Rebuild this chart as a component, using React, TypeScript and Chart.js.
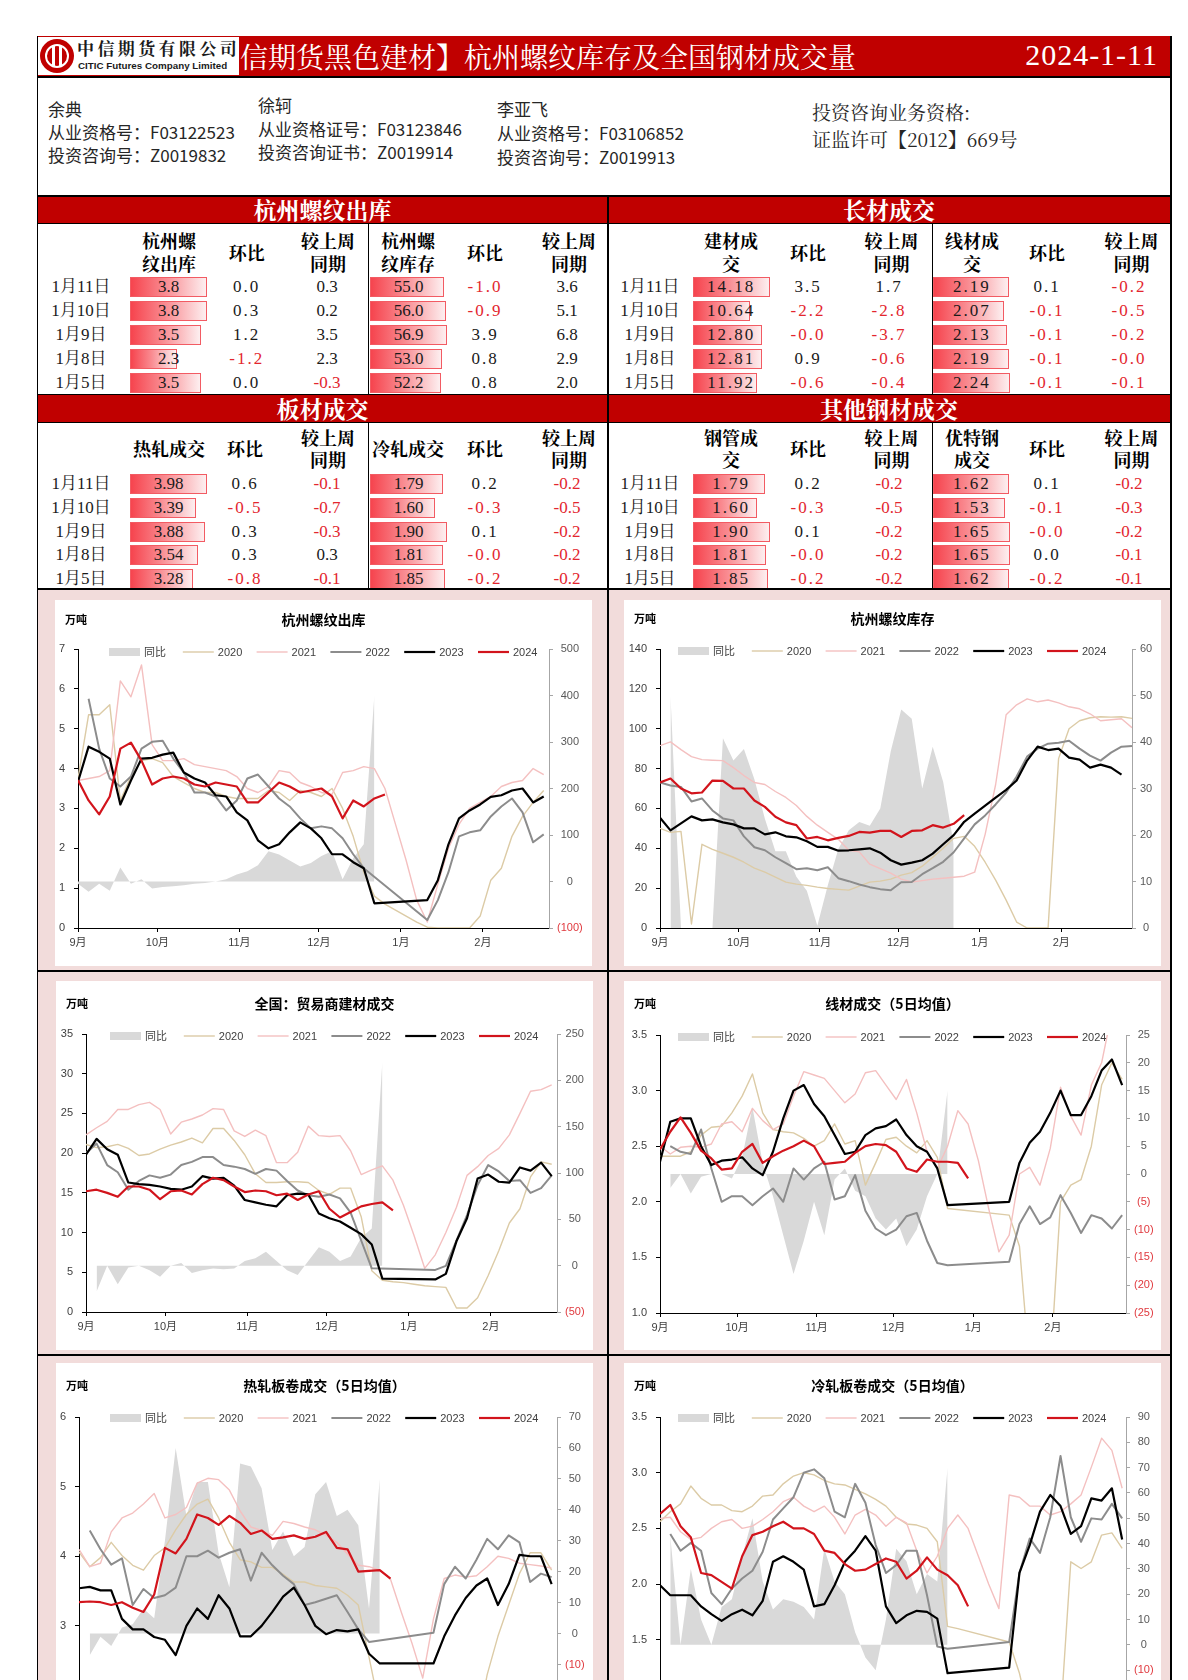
import React, { useEffect, useRef } from 'react';
import { Chart, registerables } from 'chart.js';

Chart.register(...registerables);

const CJK_SERIF = '"Noto Serif CJK SC", "Noto Sans CJK SC", serif';
const CJK = '"Noto Sans CJK SC", "Noto Sans", sans-serif';
const NUM_SERIF = '"Liberation Serif", "Noto Serif CJK SC", "Noto Sans CJK SC", serif';
const AXIS_FONT = '"Liberation Sans", "Noto Sans CJK SC", sans-serif';

const RED_BAR = '#c00000';
const PINK = '#f2dcdb';
const NEG = '#e3262e';

Chart.defaults.font.family = AXIS_FONT;

// ---------- chart data (x = days since 1 Sep) ----------
const DAYS = [0, 4, 8, 12, 16, 20, 24, 28, 32, 36, 40, 44, 48, 52, 56, 60, 64, 68, 72, 76, 80, 84, 88, 92, 96, 100, 104, 108, 112, 116, 120, 124, 128, 132, 136, 140, 144, 148, 152, 156, 160, 164, 168, 172, 176, 180];
const MONTH_DAYS = [0, 30, 61, 91, 122, 153];
const MONTH_LABELS = ['9月', '10月', '11月', '12月', '1月', '2月'];
const SERIES_LABELS = ['同比', '2020', '2021', '2022', '2023', '2024'];
const SERIES_COLORS = ['#d9d9d9', '#dccba6', '#f4c0c0', '#8c8c8c', '#000000', '#d2141c'];
const SERIES_WIDTHS = [0, 1.4, 1.4, 2, 2.2, 2.2];

// 杭州螺纹出库
const C1_YOY = [-5, -22, -5, -20, 30, -5, 5, -15, -12, -10, -8, -5, -3, 0, 5, 15, 22, 35, 65, 58, 45, 32, 40, 55, 65, 5, 50, 80, 400];
const C1_2020 = [3.75, 5.35, 5.35, 5.6, 3.2, 3.8, 4.2, 4.25, 4.15, 3.8, 3.65, 3.5, 3.4, 3.4, 3.3, 3.25, 3.25, 3.25, 3.45, 3.4, 3.2, 3.45, 3.4, 3.3, 3.5, 3.0, 2.3, 1.4, 0.8, 0.6, 0.45, 0.3, 0.15, 0.02, 0, 0, 0, 0, 0.3, 1.2, 1.5, 2.3, 2.8, 3.15, 3.45];
const C1_2021 = [3.7, 3.75, 3.8, 3.95, 6.2, 5.8, 6.6, 4.6, 4.2, 4.2, 4.25, 4.1, 4.05, 4.0, 3.95, 3.8, 3.5, 3.4, 3.55, 3.95, 3.9, 3.65, 3.55, 3.4, 3.35, 3.9, 3.95, 4.05, 4.0, 3.5, 2.6, 1.7, 0.7, 0.15, 1.1, 2.0, 2.6, 3.0, 3.15, 3.3, 3.55, 3.65, 3.7, 4.0, 3.85];
const C1_2022 = [null, 5.75, 4.5, 3.75, 3.55, 3.8, 4.5, 4.67, 4.7, 4.25, 3.9, 3.4, 3.4, 3.3, 2.95, 3.2, 3.75, 3.85, 3.55, 3.25, 3.05, 2.75, 2.5, 2.55, 2.5, 2.25, 1.85, 1.5, null, null, null, null, null, 0.2, 0.7, 1.4, 2.3, 2.4, 2.45, 2.8, 3.05, 3.25, 2.9, 2.15, 2.35];
const C1_2023 = [3.67, 4.55, 4.42, 4.25, 3.1, 3.7, 4.25, 4.27, 4.35, 4.4, 3.9, 3.75, 3.65, 3.33, 3.3, 2.9, 2.7, 2.2, 2.0, 2.1, 2.4, 2.65, 2.5, 2.25, 1.85, 1.85, 1.65, 1.5, 0.62, null, null, null, null, 0.7, 1.2, 2.1, 2.75, 2.95, 3.1, 3.29, 3.33, 3.45, 3.5, 3.15, 3.3];
const C1_2024 = [3.71, 3.2, 2.85, 3.3, 4.5, 4.65, 4.2, 3.6, 3.75, 3.8, 3.75, 3.6, 3.55, 3.65, 3.6, 3.55, 3.15, 3.15, 3.4, 3.65, 3.55, 3.4, 3.45, 3.5, 3.3, 2.75, 3.2, 3.05, 3.25, 3.35];

// 杭州螺纹库存
const C2_YOY = [null, 50, 0, 0, 0, 0, 40.8, 36, 38.5, 32, 23.5, 16.5, 16.5, 11, 8, 0.5, 9.2, 17, 21, 22.8, 22, 25.7, 38, 47, 45, 30, 39, 31.4, 18];
const C2_2020 = [50, 48, 48.5, 2, 42, 39.5, 37.5, 35.5, 33, 30, 28, 25.5, 23, 22, 21.4, 20.5, 19.8, 19.4, 19, 21, 23, 23.5, 24.5, 26.5, 27.8, 31, 35.5, 40, 45, 46, 41, 33, 24, 14, 3, 0, 0, 0, 85, 100, 104, 105.5, 106, 105.8, 106, 105.2];
const C2_2021 = [91.5, 93.4, 89.5, 86, 84.5, 84.2, 84, 80.5, 76.5, 73, 72, 68.5, 65.5, 61.5, 56, 51.6, 48, 44.5, 39, 38.2, 32, 29.8, 27.5, 24.5, 23.1, 23.8, 24.5, 25, 25.5, 26, 28, 47, 72, 107, 112, 115, 113.5, 114.4, 113, 111, 110, 107.5, 104, 104.5, 105, 100.5];
const C2_2022 = [73, 71.5, 70.8, 63.5, 65, 59, 55, 54, 46, 40.5, 39, 35.5, 32.5, 29.5, 30, 29, 30.5, 25, 23.5, 21.8, 20.5, 19.5, 18.9, 23, 23.1, 27, 30, 33.2, 38, 45, 52, 56.5, 62, 68, 76, 86, 90, 92.5, 93, 94, 90, 86.5, 84, 88, 91, 91.3];
const C2_2023 = [55.3, 49, 52.5, 56, 54, 54.5, 53, 52, 50, 50, 47, 48, 46, 45.5, 43.5, 40.7, 40.7, 38.8, 39, 39.5, 40, 37.8, 34, 31.8, 32.8, 34, 37.3, 42, 46.6, 53.3, 57.4, 61.4, 65.4, 69.3, 74, 84, 91, 89.3, 90, 85.5, 84.5, 80.5, 82, 80.5, 77];
const C2_2024 = [73, 75, 70, 67.6, 68, 74, 73.8, 70, 70, 64, 60.8, 55.8, 53, 51.6, 44.9, 45.7, 44, 45.2, 46.2, 48.2, 47.9, 48.7, 48.7, 45.7, 48.7, 49, 51.6, 50.4, 52.3, 56.6];

// 全国：贸易商建材成交
const C3_YOY = [null, -28, 0, -20, -2, 0, -5, -12, 0, 3, -8, -5, -3, -4, -3, 5, 8, 15, 5, -5, -10, 5, 20, 15, 5, 10, 30, 40, 220];
const C3_2020 = [21.1, 20.7, 20.8, 21.1, 20.6, 19.7, 19.9, 20.5, 21, 21.4, 21.9, 21.3, 23.1, 23.1, 21.6, 19.8, 17.4, 16.3, 16.3, 16.4, 16.4, 16.3, 15.3, 14.8, 15.6, 15.6, 12, 5.2, 4.0, 3.8, 3.7, 3.5, 3.3, 3.2, 3.1, 0.5, 0.5, 1.8, 4.6, 7.7, 11.2, 13, 17, 18.9, 18.6];
const C3_2021 = [22.3, 23.2, 24, 25.5, 25.5, 26.1, 26.4, 25.5, 22.4, 23.9, 24.3, 24.8, 25.6, 25.5, 22.8, 22.1, 22.9, 22.2, 18.8, 18.8, 20.1, 23.4, 22.2, 22.1, 22.2, 20.3, 17.3, 17.9, 18.4, 16.6, 13.4, 9.6, 5.5, 7.2, 10.0, 13.2, 17.2, 18.3, 19.7, 20.6, 22.3, 25, 27.8, 28, 28.6];
const C3_2022 = [20, 21.2, 18.5, 17.6, 15.4, 16.5, 17.2, 16.9, 17.3, 18.5, 18.9, 19.5, 19.5, 18.5, 18.3, 18, 17.4, 18, 17.8, 16.5, 15.3, 14.7, 14.5, 14.8, 14.3, 12.5, 9, 5.5, null, null, null, null, null, 5.3, 5.8, 9, 12.2, 16, 18.5, 17.7, 16.5, 16.6, 15, 15.6, 17.2];
const C3_2023 = [19.8, 21.8, 20.5, 19.8, 16.3, 16.1, 16, 15.8, 15.5, 15.4, 15.8, 17.1, 16.8, 16.9, 15.9, 14.1, 13.8, 13.5, 13.3, 14.7, 14.9, 14.8, 12.4, 11.8, 11.4, 10.6, 9.8, 8.5, 4.2, null, null, null, null, 4.1, 4.8, 8.9, 11.8, 16.8, 17.3, 16.4, 16.3, 18.2, 17.8, 18.8, 17.1];
const C3_2024 = [15.2, 15.4, 15, 14.5, 15.8, 15.8, 15.4, 14.2, 15.2, 15.3, 14.8, 16.1, 16.9, 16.6, 15.8, 15.1, 15.3, 15.2, 14.7, 14.9, 14.1, 14.8, 15.2, 13.0, 11.9, 12.6, 13.3, 13.6, 13.8, 12.8];

// 线材成交（5日均值）
const C4_YOY = [null, -2.5, 0, -3.5, -0.5, 0, 0, -0.8, 3, 12, 2, -4, -11, -18, -12, -5, -11, -1, 1, -3, -4, -8, -10, -8, -13, -10, -4, 0, 15];
const C4_2020 = [2.41, 2.41, 2.41, 2.45, 2.6, 2.67, 2.68, 2.8, 2.95, 3.15, 2.8, 2.65, 2.63, 2.62, 2.57, 2.5, 2.55, 2.7, 2.52, 2.55, 2.15, 2.35, 2.56, 2.58, 2.5, 2.44, 2.55, 2.4, 1.94, null, null, null, null, null, 1.88, 1.6, 0.5, 0.5, 0.5, 2.0, 2.15, 2.2, 2.5, 3.05, 3.25, 3.1];
const C4_2021 = [2.5, 2.43, 2.49, 2.5, 2.49, 2.52, 2.7, 2.72, 2.63, 2.84, 2.73, 2.65, 2.7, 2.95, 3.17, 3.14, 3.11, 3.0, 2.89, 2.97, 3.16, 3.18, 3.05, 2.92, 3.1, 2.8, 2.45, 2.3, 2.5, 2.82, 2.7, 2.37, 1.94, 1.55, 1.7, 2.25, 2.31, 2.15, 2.48, 3.03, 2.77, 2.6, 3.05, 3.25, 3.7];
const C4_2022 = [null, 2.5, 2.45, 2.43, 2.65, 2.3, 2.0, 2.05, 2.05, 1.97, 2.05, 2.12, 2.0, 2.3, 2.2, 2.3, 2.36, 2.02, 2.05, 2.24, 1.92, 1.76, 1.7, 1.75, 1.87, 1.9, 1.65, 1.45, 1.43, null, null, null, null, null, 1.46, 1.8, 1.96, 1.8, 1.86, 2.06, 1.9, 1.72, 1.88, 1.85, 1.76, 1.88];
const C4_2023 = [2.36, 2.72, 2.75, 2.75, 2.5, 2.33, 2.37, 2.38, 2.4, 2.3, 2.24, 2.45, 2.75, 3.0, 3.05, 2.88, 2.77, 2.6, 2.43, 2.45, 2.6, 2.66, 2.68, 2.74, 2.6, 2.5, 2.45, 2.3, 1.97, null, null, null, null, null, 2.0, 2.35, 2.53, 2.63, 2.8, 3.0, 2.78, 2.78, 2.95, 3.18, 3.28, 3.05];
const C4_2024 = [2.47, 2.63, 2.76, 2.62, 2.46, 2.39, 2.29, 2.3, 2.45, 2.52, 2.35, 2.41, 2.46, 2.5, 2.55, 2.5, 2.34, 2.35, 2.36, 2.44, 2.5, 2.52, 2.51, 2.45, 2.3, 2.27, 2.38, 2.36, 2.36, 2.35, 2.21];

// 热轧板卷成交（5日均值）
const C5_YOY = [null, -7, -1, -4, 2, 3, 8, 5, 30, 60, 38, 49, 49, 26, 15, 55, 54, 47, 27, 33, 25, 28, 45, 49, 38, 40, 35, 8, 50];
const C5_2020 = [4.06, 3.85, 3.98, 4.2, 4.01, 3.87, 3.8, 4.01, 4.12, 4.38, 4.6, 4.75, 4.82, 4.55, 4.2, 3.95, 3.92, 3.84, 3.84, 3.74, 3.63, 3.63, 3.58, 3.56, 3.54, 3.44, 3.3, 2.55, 1.8, null, null, null, null, null, null, null, null, 1.5, 2.3, 2.85, 3.3, 3.75, 4.05, 4.05, 3.8];
const C5_2021 = [4.1, 3.85, 3.9, 4.35, 4.55, 4.62, 4.75, 4.9, 4.55, 4.6, 4.7, 5.05, 5.12, 5.1, 4.95, 4.65, 4.42, 4.37, 4.3, 4.5, 4.47, 4.42, 4.38, 4.3, 4.2, 4.03, 3.87, 3.85, 3.8, 3.67, 3.2, 2.75, 2.25, 3.1, 3.68, 3.73, 3.7, 3.72, 3.85, 4.0, 3.97, 3.9, 3.88, 3.86, 3.83];
const C5_2022 = [null, 4.37, 4.1, 3.88, 3.97, 3.3, 3.53, 3.4, 3.44, 3.55, 4.0, 4.0, 4.08, 3.98, 4.05, 4.1, 3.65, 4.05, 3.87, 3.72, 3.6, 3.3, 3.34, 3.39, 3.44, 3.2, 2.95, 2.77, null, null, null, null, null, 2.9, 3.6, 3.85, 3.68, 3.95, 4.25, 4.1, 4.3, 4.2, 3.63, 3.75, 3.7];
const C5_2023 = [3.54, 3.56, 3.51, 3.51, 3.1, 2.95, 2.95, 2.84, 2.8, 2.58, 3.0, 3.25, 3.1, 3.44, 3.25, 2.85, 2.85, 3.0, 3.2, 3.42, 3.55, 3.3, 3.0, 2.88, 2.94, 2.92, 2.95, 2.6, 2.46, null, null, null, null, 2.46, 2.85, 3.15, 3.4, 3.58, 3.68, 3.3, 3.6, 4.02, 4.0, 4.0, 3.6];
const C5_2024 = [3.34, 3.35, 3.34, 3.3, 3.34, 3.26, 3.2, 3.45, 4.12, 4.04, 4.25, 4.6, 4.55, 4.45, 4.58, 4.48, 4.32, 4.37, 4.25, 4.27, 4.3, 4.25, 4.28, 4.35, 4.12, 4.1, 3.78, 3.79, 3.8, 3.68];

// 冷轧板卷成交（5日均值）
const C6_YOY = [null, 43, 0, 30, 10, 0, 15, 18, 35, 50, 25, 14, 18, 17, 15, 10, 38, 25, 20, 5, -5, -10, 10, 38, 33, 20, 28, 25, 70];
const C6_2020 = [2.56, 2.65, 2.72, 2.88, 2.77, 2.71, 2.71, 2.66, 2.65, 2.7, 2.79, 2.8, 2.9, 2.97, 3.0, 2.98, 2.93, 2.9, 2.89, 2.85, 2.81, 2.76, 2.7, 2.6, 2.54, 2.53, 2.5, 2.38, 1.62, 1.6, null, null, null, null, 1.48, 1.2, 0.8, null, null, 0.8, 2.2, 2.14, 2.2, 2.44, 2.46, 2.32];
const C6_2021 = [2.59, 2.6, 2.47, 2.4, 2.42, 2.5, 2.56, 2.58, 2.5, 2.52, 2.58, 2.65, 2.74, 2.78, 2.7, 2.65, 2.7, 2.6, 2.45, 2.62, 2.67, 2.62, 2.52, 2.6, 2.55, 2.3, 2.1, 2.25, 2.5, 2.62, 2.5, 2.25, 2.0, 1.78, 2.8, 2.78, 2.7, 2.7, 2.62, 2.65, 2.72, 2.8, 3.05, 3.31, 3.2, 2.86];
const C6_2022 = [null, 2.45, 2.3, 2.37, 2.3, 1.92, 1.82, 1.96, 2.05, 2.12, 2.29, 2.58, 2.68, 2.78, 3.0, 3.03, 2.95, 2.65, 2.6, 2.9, 2.73, 2.35, 2.1, 2.17, 2.3, 2.3, 1.9, 1.44, 1.42, null, null, null, null, null, 1.48, 2.1, 2.41, 2.28, 2.6, 3.15, 2.6, 2.38, 2.59, 2.58, 2.72, 2.59];
const C6_2023 = [1.99, 1.9, 1.9, 1.9, 1.8, 1.73, 1.67, 1.73, 1.77, 1.72, 1.85, 2.2, 2.25, 2.2, 2.13, 1.8, 1.82, 1.99, 2.2, 2.3, 2.43, 2.3, 1.8, 1.65, 1.72, 1.76, 1.75, 1.69, 1.2, null, null, null, null, null, 1.25, 2.1, 2.35, 2.65, 2.8, 2.7, 2.45, 2.52, 2.77, 2.75, 2.86, 2.4];
const C6_2024 = [2.63, 2.71, 2.52, 2.42, 2.1, 2.08, 2.02, 1.96, 2.25, 2.44, 2.47, 2.52, 2.56, 2.5, 2.5, 2.45, 2.3, 2.28, 2.18, 2.12, 2.13, 2.18, 2.23, 2.2, 2.05, 2.12, 2.24, 2.13, 2.08, 1.99, 1.8];

// ---------- table data ----------
const T_DATES = ['1月11日', '1月10日', '1月9日', '1月8日', '1月5日'];
const HZ_OUT = [3.8, 3.8, 3.5, 2.3, 3.5];
const HZ_OUT_HB = ['0.0', '0.3', '1.2', '-1.2', '0.0'];
const HZ_OUT_WOW = ['0.3', '0.2', '3.5', '2.3', '-0.3'];
const HZ_STOCK = [55.0, 56.0, 56.9, 53.0, 52.2];
const HZ_STOCK_HB = ['-1.0', '-0.9', '3.9', '0.8', '0.8'];
const HZ_STOCK_WOW = ['3.6', '5.1', '6.8', '2.9', '2.0'];
const JC = [14.18, 10.64, 12.8, 12.81, 11.92];
const JC_HB = ['3.5', '-2.2', '-0.0', '0.9', '-0.6'];
const JC_WOW = ['1.7', '-2.8', '-3.7', '-0.6', '-0.4'];
const XC = [2.19, 2.07, 2.13, 2.19, 2.24];
const XC_HB = ['0.1', '-0.1', '-0.1', '-0.1', '-0.1'];
const XC_WOW = ['-0.2', '-0.5', '-0.2', '-0.0', '-0.1'];
const RZ = [3.98, 3.39, 3.88, 3.54, 3.28];
const RZ_HB = ['0.6', '-0.5', '0.3', '0.3', '-0.8'];
const RZ_WOW = ['-0.1', '-0.7', '-0.3', '0.3', '-0.1'];
const LZ = [1.79, 1.6, 1.9, 1.81, 1.85];
const LZ_HB = ['0.2', '-0.3', '0.1', '-0.0', '-0.2'];
const LZ_WOW = ['-0.2', '-0.5', '-0.2', '-0.2', '-0.2'];
const GG = [1.79, 1.6, 1.9, 1.81, 1.85];
const GG_HB = ['0.2', '-0.3', '0.1', '-0.0', '-0.2'];
const GG_WOW = ['-0.2', '-0.5', '-0.2', '-0.2', '-0.2'];
const YT = [1.62, 1.53, 1.65, 1.65, 1.62];
const YT_HB = ['0.1', '-0.1', '-0.0', '0.0', '-0.2'];
const YT_WOW = ['-0.2', '-0.3', '-0.2', '-0.1', '-0.1'];

// ---------- chart panels ----------
const PANELS = [
  { id: 'c1', x: 55, y: 600, w: 537, h: 366, plotL: 23, plotT: 49, plotR: 494, plotB: 328, title: '杭州螺纹出库', titleY: 20, legendY: 52, xMax: 178, yMin: 0, yMax: 7, yStep: 1, yDec: 0, rMin: -100, rMax: 500, rStep: 100, series: [C1_YOY, C1_2020, C1_2021, C1_2022, C1_2023, C1_2024] },
  { id: 'c2', x: 624, y: 600, w: 537, h: 366, plotL: 36, plotT: 49, plotR: 508, plotB: 328, title: '杭州螺纹库存', titleY: 19, legendY: 51, xMax: 180, yMin: 0, yMax: 140, yStep: 20, yDec: 0, rMin: 0, rMax: 60, rStep: 10, series: [C2_YOY, C2_2020, C2_2021, C2_2022, C2_2023, C2_2024] },
  { id: 'c3', x: 56, y: 981, w: 537, h: 369, plotL: 30, plotT: 53, plotR: 501, plotB: 331, title: '全国：贸易商建材成交', titleY: 23, legendY: 55, xMax: 178, yMin: 0, yMax: 35, yStep: 5, yDec: 0, rMin: -50, rMax: 250, rStep: 50, series: [C3_YOY, C3_2020, C3_2021, C3_2022, C3_2023, C3_2024] },
  { id: 'c4', x: 624, y: 981, w: 537, h: 369, plotL: 36, plotT: 54, plotR: 502, plotB: 332, title: '线材成交（5日均值）', titleY: 23, legendY: 56, xMax: 181.5, yMin: 1, yMax: 3.5, yStep: 0.5, yDec: 1, rMin: -25, rMax: 25, rStep: 5, series: [C4_YOY, C4_2020, C4_2021, C4_2022, C4_2023, C4_2024] },
  { id: 'c5', x: 56, y: 1363, w: 537, h: 366, plotL: 23, plotT: 54, plotR: 501, plotB: 332.5, title: '热轧板卷成交（5日均值）', titleY: 23, legendY: 55, xMax: 178, yMin: 2, yMax: 6, yStep: 1, yDec: 0, rMin: -20, rMax: 70, rStep: 10, series: [C5_YOY, C5_2020, C5_2021, C5_2022, C5_2023, C5_2024] },
  { id: 'c6', x: 624, y: 1363, w: 537, h: 366, plotL: 36, plotT: 54, plotR: 502, plotB: 332.5, title: '冷轧板卷成交（5日均值）', titleY: 23, legendY: 55, xMax: 181.5, yMin: 1, yMax: 3.5, yStep: 0.5, yDec: 1, rMin: -20, rMax: 90, rStep: 10, series: [C6_YOY, C6_2020, C6_2021, C6_2022, C6_2023, C6_2024] },
];

function ChartPanel({ cfg }: { cfg: any }) {
  const ref = useRef<HTMLCanvasElement | null>(null);
  useEffect(() => {
    const canvas = ref.current;
    if (!canvas) return;
    const pts = (arr: (number | null)[]) => arr.map((v, i) => ({ x: DAYS[i], y: v }));
    const datasets: any[] = cfg.series.map((arr: (number | null)[], i: number) => {
      if (i === 0) {
        return {
          label: SERIES_LABELS[0], data: pts(arr), yAxisID: 'y1', borderWidth: 0,
          borderColor: 'rgba(0,0,0,0)', backgroundColor: SERIES_COLORS[0], fill: 'origin',
          pointRadius: 0, spanGaps: false, order: 6,
        };
      }
      return {
        label: SERIES_LABELS[i], data: pts(arr), yAxisID: 'y', borderWidth: SERIES_WIDTHS[i],
        borderColor: SERIES_COLORS[i], backgroundColor: SERIES_COLORS[i], fill: false,
        pointRadius: 0, spanGaps: true, order: 6 - i, borderJoinStyle: 'round',
      };
    });
    const overlay = {
      id: 'overlay_' + cfg.id,
      afterDraw(chart: any) {
        const c = chart.ctx;
        c.save();
        c.textBaseline = 'middle';
        c.fillStyle = '#000';
        c.textAlign = 'center';
        c.font = 'bold 14px ' + CJK;
        c.fillText(cfg.title, cfg.w / 2, cfg.titleY);
        c.font = 'bold 11px ' + CJK;
        c.fillText('万吨', 21, cfg.titleY);
        c.textAlign = 'left';
        c.font = '11px ' + AXIS_FONT;
        SERIES_LABELS.forEach((lab, i) => {
          const lx = 54 + i * 73.8;
          const ly = cfg.legendY;
          if (i === 0) {
            c.fillStyle = SERIES_COLORS[0];
            c.fillRect(lx, ly - 4, 31, 8);
          } else {
            c.strokeStyle = SERIES_COLORS[i];
            c.lineWidth = SERIES_WIDTHS[i];
            c.beginPath();
            c.moveTo(lx, ly);
            c.lineTo(lx + 31, ly);
            c.stroke();
          }
          c.fillStyle = '#404040';
          c.fillText(lab, lx + 35, ly + 0.5);
        });
        c.restore();
      },
    };
    const chart = new Chart(canvas, {
      type: 'line',
      data: { datasets },
      options: {
        animation: false,
        responsive: false,
        devicePixelRatio: 1,
        layout: { padding: { top: cfg.plotT, left: 0, right: 0, bottom: 0 } },
        plugins: { legend: { display: false }, tooltip: { enabled: false }, title: { display: false } },
        elements: { point: { radius: 0 }, line: { tension: 0 } },
        scales: {
          x: {
            type: 'linear', min: 0, max: cfg.xMax,
            afterBuildTicks: (s: any) => { s.ticks = MONTH_DAYS.map((v) => ({ value: v })); },
            afterFit: (s: any) => { s.height = cfg.h - cfg.plotB; },
            ticks: {
              autoSkip: false, maxRotation: 0, minRotation: 0, padding: 4, color: '#404040',
              font: { size: 11, family: AXIS_FONT },
              callback: (_v: any, idx: number) => MONTH_LABELS[idx] ?? '',
            },
            grid: { display: true, drawOnChartArea: false, drawTicks: true, tickLength: 4, color: '#000' },
            border: { display: true, color: '#000', width: 1 },
          },
          y: {
            position: 'left', min: cfg.yMin, max: cfg.yMax,
            afterFit: (s: any) => { s.width = cfg.plotL; },
            ticks: {
              stepSize: cfg.yStep, padding: 9, color: '#404040', font: { size: 11, family: AXIS_FONT },
              callback: (v: any) => Number(v).toFixed(cfg.yDec),
            },
            grid: { display: true, drawOnChartArea: false, drawTicks: true, tickLength: 4, color: '#000' },
            border: { display: true, color: '#000', width: 1 },
          },
          y1: {
            position: 'right', min: cfg.rMin, max: cfg.rMax,
            afterFit: (s: any) => { s.width = cfg.w - cfg.plotR; },
            ticks: {
              stepSize: cfg.rStep, padding: 4, crossAlign: 'center', font: { size: 11, family: AXIS_FONT },
              color: (ctx: any) => (ctx.tick && ctx.tick.value < 0 ? '#e0393e' : '#595959'),
              callback: (v: any) => (Number(v) < 0 ? '(' + Math.abs(Number(v)) + ')' : String(v)),
            },
            grid: { display: true, drawOnChartArea: false, drawTicks: true, tickLength: 4, color: '#a6a6a6' },
            border: { display: true, color: '#a6a6a6', width: 1 },
          },
        },
      } as any,
      plugins: [overlay],
    });
    return () => chart.destroy();
  }, [cfg]);
  return (
    <canvas
      ref={ref}
      width={cfg.w}
      height={cfg.h}
      style={{ position: 'absolute', left: cfg.x, top: cfg.y, width: cfg.w, height: cfg.h, background: '#fff' }}
    />
  );
}

// ---------- table pieces ----------
function CText(props: { x: number; y: number; text: string; size?: number; color?: string; family?: string; weight?: number | string; spacing?: number; w?: number }) {
  const { x, y, text, size = 17, color = '#000', family = NUM_SERIF, weight = 400, spacing = 0, w = 140 } = props;
  return (
    <div style={{ position: 'absolute', left: x - w / 2, top: y - 13, width: w, height: 26, lineHeight: '26px', textAlign: 'center', fontSize: size, color, fontFamily: family, fontWeight: weight as any, letterSpacing: spacing, whiteSpace: 'nowrap' }}>{text}</div>
  );
}

const SEC1_ROWS = [287, 311, 334.5, 358.5, 382.5];
const SEC2_ROWS = [484, 507.5, 531.5, 555, 579];
const BAR_W = 77;

const TABLES = [
  { rows: SEC1_ROWS, head: [240, 263, 251.5], dateX: 81, groups: [
    { head: ['杭州螺', '纹出库'], headX: 169, barX: 130, vals: HZ_OUT, dec: 1, spacedVal: false, hb: HZ_OUT_HB, hbX: 246.7, wow: HZ_OUT_WOW, wowX: 327, wowHeadX: 328, spacedWow: false },
    { head: ['杭州螺', '纹库存'], headX: 408, barX: 370, vals: HZ_STOCK, dec: 1, spacedVal: false, hb: HZ_STOCK_HB, hbX: 485, wow: HZ_STOCK_WOW, wowX: 567, wowHeadX: 569, spacedWow: false },
  ] },
  { rows: SEC1_ROWS, head: [240, 263, 251.5], dateX: 650, groups: [
    { head: ['建材成', '交'], headX: 731, barX: 692.6, vals: JC, dec: 2, spacedVal: true, hb: JC_HB, hbX: 808, wow: JC_WOW, wowX: 889, wowHeadX: 891.5, spacedWow: true },
    { head: ['线材成', '交'], headX: 972, barX: 933.3, vals: XC, dec: 2, spacedVal: true, hb: XC_HB, hbX: 1047, wow: XC_WOW, wowX: 1129, wowHeadX: 1131.5, spacedWow: true },
  ] },
  { rows: SEC2_ROWS, head: [437, 458.5, 448], dateX: 81, groups: [
    { head: ['热轧成交'], headX: 169, barX: 130, vals: RZ, dec: 2, spacedVal: false, hb: RZ_HB, hbX: 245, wow: RZ_WOW, wowX: 327, wowHeadX: 328, spacedWow: false },
    { head: ['冷轧成交'], headX: 408, barX: 370, vals: LZ, dec: 2, spacedVal: false, hb: LZ_HB, hbX: 485, wow: LZ_WOW, wowX: 567, wowHeadX: 569, spacedWow: false },
  ] },
  { rows: SEC2_ROWS, head: [437, 458.5, 448], dateX: 650, groups: [
    { head: ['钢管成', '交'], headX: 731, barX: 692.6, vals: GG, dec: 2, spacedVal: true, hb: GG_HB, hbX: 808, wow: GG_WOW, wowX: 889, wowHeadX: 891.5, spacedWow: false },
    { head: ['优特钢', '成交'], headX: 972, barX: 933.3, vals: YT, dec: 2, spacedVal: true, hb: YT_HB, hbX: 1047, wow: YT_WOW, wowX: 1129, wowHeadX: 1131.5, spacedWow: false },
  ] },
];

function renderTable(t: any, ti: number) {
  const els: any[] = [];
  const headStyle = { size: 18, family: CJK_SERIF, weight: 700 };
  t.groups.forEach((g: any, gi: number) => {
    const k = `t${ti}g${gi}`;
    if (g.head.length === 2) {
      els.push(<CText key={k + 'h1'} x={g.headX} y={t.head[0]} text={g.head[0]} {...headStyle} />);
      els.push(<CText key={k + 'h2'} x={g.headX} y={t.head[1]} text={g.head[1]} {...headStyle} />);
    } else {
      els.push(<CText key={k + 'h1'} x={g.headX} y={t.head[2]} text={g.head[0]} {...headStyle} />);
    }
    els.push(<CText key={k + 'hb'} x={g.hbX} y={t.head[2]} text="环比" {...headStyle} />);
    els.push(<CText key={k + 'w1'} x={g.wowHeadX} y={t.head[0]} text="较上周" {...headStyle} />);
    els.push(<CText key={k + 'w2'} x={g.wowHeadX} y={t.head[1]} text="同期" {...headStyle} />);
    const mx = Math.max(...g.vals);
    g.vals.forEach((v: number, ri: number) => {
      const y = t.rows[ri];
      const bw = (BAR_W * v) / mx;
      els.push(
        <div key={k + 'bar' + ri} style={{ position: 'absolute', left: g.barX, top: y - 10, width: bw, height: 20, boxSizing: 'border-box', border: '1px solid #f25b63', background: 'linear-gradient(to right, #f6444e 0%, #f98a90 45%, #fdeff0 100%)' }} />
      );
      els.push(<CText key={k + 'bv' + ri} x={g.barX + BAR_W / 2} y={y} text={v.toFixed(g.dec)} spacing={g.spacedVal ? 2 : 0} color="#1a1a1a" />);
      const hb = g.hb[ri];
      els.push(<CText key={k + 'hbv' + ri} x={g.hbX} y={y} text={hb} spacing={2} color={hb.startsWith('-') ? NEG : '#1a1a1a'} />);
      const wv = g.wow[ri];
      els.push(<CText key={k + 'wv' + ri} x={g.wowX} y={y} text={wv} spacing={g.spacedWow ? 2 : 0} color={wv.startsWith('-') ? NEG : '#1a1a1a'} />);
    });
  });
  t.rows.forEach((y: number, ri: number) => {
    els.push(<CText key={`t${ti}d${ri}`} x={t.dateX} y={y} text={T_DATES[ri]} color="#1a1a1a" />);
  });
  return els;
}

function Rect({ l, t, w, h, bg }: { l: number; t: number; w: number; h: number; bg: string }) {
  return <div style={{ position: 'absolute', left: l, top: t, width: w, height: h, background: bg }} />;
}

function Info({ x, y, text, size = 17, family = CJK }: { x: number; y: number; text: string; size?: number; family?: string }) {
  return (
    <div style={{ position: 'absolute', left: x, top: y - 12, height: 24, lineHeight: '24px', fontSize: size, fontFamily: family, color: '#262626', whiteSpace: 'nowrap' }}>{text}</div>
  );
}

const SEC_HEAD = { position: 'absolute', height: 27, lineHeight: '27px', textAlign: 'center', fontSize: 23, fontWeight: 700, color: '#fff', fontFamily: CJK_SERIF } as any;

export default function App() {
  return (
    <div style={{ position: 'absolute', left: 0, top: 0, width: 1188, height: 1680, overflow: 'hidden', background: '#fff' }}>
      {/* chart row backgrounds */}
      <Rect l={38} t={590} w={1132} h={380} bg={PINK} />
      <Rect l={38} t={972} w={1132} h={382} bg={PINK} />
      <Rect l={38} t={1356} w={1132} h={330} bg={PINK} />

      {PANELS.map((p) => <ChartPanel key={p.id} cfg={p} />)}

      {/* header */}
      <Rect l={37} t={36} w={1134} h={40} bg={RED_BAR} />
      <div style={{ position: 'absolute', left: 184, top: 36, height: 40, lineHeight: '40px', fontSize: 28, color: '#fff', fontFamily: CJK_SERIF, whiteSpace: 'nowrap' }}>【中信期货黑色建材】杭州螺纹库存及全国钢材成交量</div>
      <div style={{ position: 'absolute', left: 38, top: 37, width: 201, height: 38, background: '#fff' }}>
        <div style={{ position: 'absolute', left: 2, top: 2, width: 34, height: 34, borderRadius: '50%', background: RED_BAR }}>
          <div style={{ position: 'absolute', left: 5, top: 5, width: 20, height: 20, borderRadius: '50%', border: '2px solid #fff' }} />
          <div style={{ position: 'absolute', left: 12, top: 7, width: 3, height: 20, background: '#fff' }} />
          <div style={{ position: 'absolute', left: 19, top: 7, width: 3, height: 20, background: '#fff' }} />
        </div>
        <div style={{ position: 'absolute', left: 39, top: 0, height: 22, lineHeight: '22px', fontSize: 17, fontWeight: 700, letterSpacing: 3.4, fontFamily: CJK_SERIF, color: '#1a1a1a', whiteSpace: 'nowrap' }}>中信期货有限公司</div>
        <div style={{ position: 'absolute', left: 40, top: 23, height: 12, lineHeight: '12px', fontSize: 9.8, fontWeight: 700, fontFamily: '"Liberation Sans", sans-serif', color: '#1a1a1a', whiteSpace: 'nowrap' }}>CITIC Futures Company Limited</div>
      </div>
      <div style={{ position: 'absolute', left: 880, width: 278, top: 35, height: 40, lineHeight: '40px', textAlign: 'right', fontSize: 30, letterSpacing: 1, color: '#fff', fontFamily: '"Liberation Serif", serif', whiteSpace: 'nowrap' }}>2024-1-11</div>
      <Rect l={37} t={76} w={1134} h={2} bg="#000" />

      {/* analyst info */}
      <Info x={48} y={109} text="余典" />
      <Info x={48} y={132} text="从业资格号：F03122523" />
      <Info x={48} y={155} text="投资咨询号：Z0019832" />
      <Info x={258} y={105} text="徐轲" />
      <Info x={258} y={128.5} text="从业资格证号：F03123846" />
      <Info x={258} y={152} text="投资咨询证书：Z0019914" />
      <Info x={497} y={109} text="李亚飞" />
      <Info x={497} y={133} text="从业资格号：F03106852" />
      <Info x={497} y={157} text="投资咨询号：Z0019913" />
      <Info x={812} y={112} text="投资咨询业务资格:" size={19} family={CJK_SERIF} />
      <Info x={812} y={139} text="证监许可【2012】669号" size={19} family={CJK_SERIF} />

      {/* section headers */}
      <Rect l={37} t={195} w={1134} h={1.5} bg="#000" />
      <Rect l={38} t={196.5} w={1132} h={26} bg={RED_BAR} />
      <Rect l={37} t={222.5} w={1134} h={1} bg="#000" />
      <div style={{ ...SEC_HEAD, left: 38, width: 569, top: 196 }}>杭州螺纹出库</div>
      <div style={{ ...SEC_HEAD, left: 608, width: 562, top: 196 }}>长材成交</div>

      <Rect l={37} t={393.5} w={1134} h={1.5} bg="#000" />
      <Rect l={38} t={395} w={1132} h={26.5} bg={RED_BAR} />
      <Rect l={37} t={421.5} w={1134} h={1} bg="#000" />
      <div style={{ ...SEC_HEAD, left: 38, width: 569, top: 395 }}>板材成交</div>
      <div style={{ ...SEC_HEAD, left: 608, width: 562, top: 395 }}>其他钢材成交</div>

      {TABLES.map((t, i) => renderTable(t, i))}

      {/* inner dividers */}
      <Rect l={367.5} t={223} w={1} h={171} bg="#000" />
      <Rect l={931.5} t={223} w={1} h={171} bg="#000" />
      <Rect l={367.5} t={422} w={1} h={166} bg="#000" />
      <Rect l={931.5} t={422} w={1} h={166} bg="#000" />

      {/* frame lines */}
      <Rect l={37} t={588} w={1134} h={2} bg="#000" />
      <Rect l={37} t={970} w={1134} h={2} bg="#000" />
      <Rect l={37} t={1354} w={1134} h={2} bg="#000" />
      <Rect l={606.5} t={196} w={2} h={1500} bg="#000" />
      <Rect l={36.5} t={36} w={1.5} h={1660} bg="#000" />
      <Rect l={1170} t={36} w={1.5} h={1660} bg="#000" />
    </div>
  );
}
